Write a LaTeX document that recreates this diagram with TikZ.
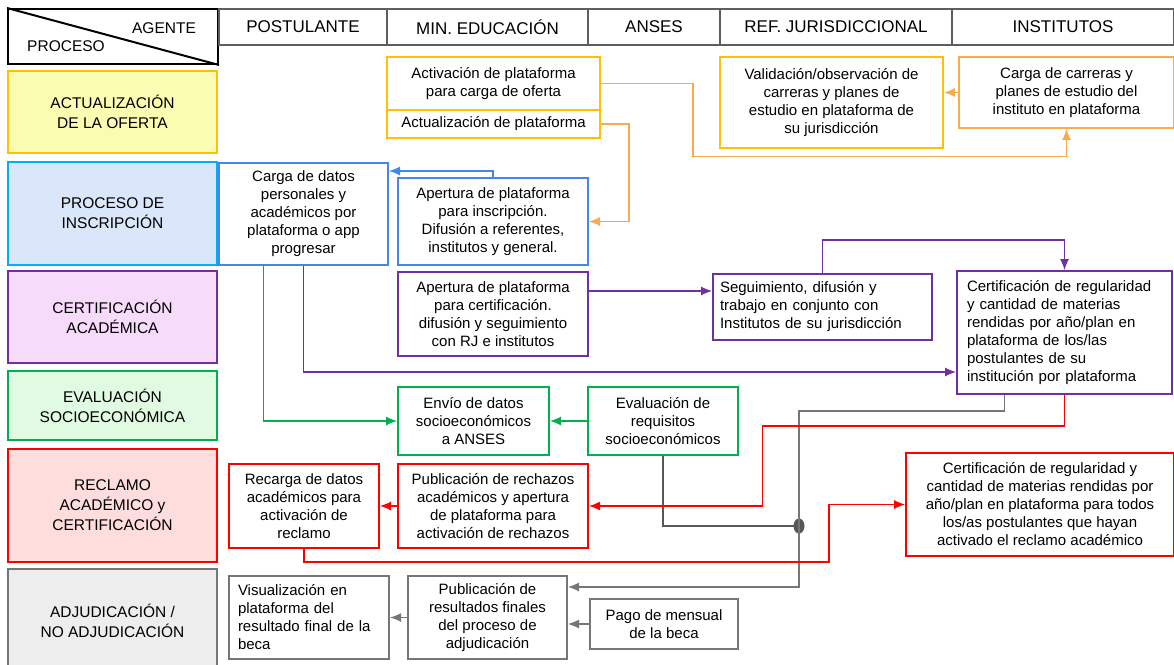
\documentclass[tikz,border=0pt]{standalone}
\usepackage{fontspec}
\setmainfont{Liberation Sans}
\usetikzlibrary{arrows.meta}

\definecolor{oro}{RGB}{255,192,0}
\definecolor{naranja}{RGB}{248,170,76}
\definecolor{azul}{RGB}{70,134,236}
\definecolor{celeste}{RGB}{0,176,240}
\definecolor{violeta}{RGB}{112,48,160}
\definecolor{verde}{RGB}{0,176,80}
\definecolor{rojo}{RGB}{255,0,0}
\definecolor{gris}{RGB}{118,118,118}
\definecolor{grisosc}{RGB}{88,88,88}
\definecolor{famarillo}{RGB}{250,252,178}
\definecolor{fceleste}{RGB}{218,231,250}
\definecolor{frosa}{RGB}{247,219,251}
\definecolor{fverde}{RGB}{224,251,226}
\definecolor{frojo}{RGB}{255,221,221}
\definecolor{fgris}{RGB}{237,237,237}

\tikzset{
	tarea/.style={draw, line width=2pt, fill=white, align=center, inner sep=2pt, font=\fontsize{15}{18}\selectfont},
	proceso/.style={draw, line width=2.4pt, align=center, minimum width=209pt, font=\fontsize{15.5}{20}\selectfont},
	cabecera/.style={draw=gris!80!black, line width=2pt, minimum height=36pt, font=\fontsize{17}{20}\selectfont},
	flecha/.style={line width=1.1pt, -{Latex[length=11pt,width=9pt]}},
}
\def\caja[#1](#2,#3)(#4,#5)#6#7{\node[tarea,#1,minimum width={#4-#2},minimum height={#5-#3}] (#6) at ({(#2+#4)/2},{(#3+#5)/2}) {#7};}

\begin{document}
\begin{tikzpicture}[x=1pt, y=-1pt]
			%%%%% START %%%%%
			\useasboundingbox (0,0) rectangle (1174,664);
			
			\node[draw=black, line width=2pt, minimum width=210pt, minimum height=55pt] (esquina) at (113, 36.5) {};
			\draw[line width=2pt] (esquina.north west) -- (esquina.south east);
			\node[font=\fontsize{15.5}{18}\selectfont] (agente) at (164, 28) {AGENTE};
			\node[font=\fontsize{15.5}{18}\selectfont] (proc) at (66, 46) {PROCESO};
			
			\node[cabecera, minimum width=168pt] (hPost) at (303, 27) {POSTULANTE};
			\node[cabecera, minimum width=201pt] (hMin) at (487.5, 27) {MIN. EDUCACIÓN};
			\node[cabecera, minimum width=132pt] (hAnses) at (654, 27) {ANSES};
			\node[cabecera, minimum width=232pt] (hRef) at (836, 27) {REF. JURISDICCIONAL};
			\node[cabecera, minimum width=222pt] (hInst) at (1063, 27) {INSTITUTOS};
			
			\node[proceso, draw=oro, fill=famarillo, minimum height=82pt] (pOferta) at (112.5, 112) {ACTUALIZACIÓN\\DE LA OFERTA};
			\node[proceso, draw=celeste, fill=fceleste, minimum height=103pt] (pInscr) at (112.5, 213.5) {PROCESO DE\\INSCRIPCIÓN};
			\node[proceso, draw=violeta, fill=frosa, minimum height=92pt] (pCert) at (112.5, 317) {CERTIFICACIÓN\\ACADÉMICA};
			\node[proceso, draw=verde, fill=fverde, minimum height=69pt] (pEval) at (112.5, 405.5) {EVALUACIÓN\\SOCIOECONÓMICA};
			\node[proceso, draw=rojo, fill=frojo, minimum height=113pt] (pRecl) at (112.5, 505.5) {RECLAMO\\ACADÉMICO y\\CERTIFICACIÓN};
			\node[proceso, draw=gris, fill=fgris, minimum height=103pt] (pAdj) at (112.5, 620.5) {ADJUDICACIÓN /\\NO ADJUDICACIÓN};
			
			\caja[draw=oro](387,57)(600,110){activ}{Activación de plataforma\\para carga de oferta}
			\caja[draw=oro](387,110)(600,138){actu}{Actualización de plataforma}
			\caja[draw=oro](720,57)(943,148){valid}{Validación/observación de\\carreras y planes de\\estudio en plataforma de\\su jurisdicción}
			\caja[draw=naranja](959,57)(1174,128){cargaof}{Carga de carreras y\\planes de estudio del\\instituto en plataforma}
			
			\caja[draw=azul](219,163)(388,265){datos}{Carga de datos\\personales y\\académicos por\\plataforma o app\\progresar}
			\caja[draw=azul](398,178)(588,265){apins}{Apertura de plataforma\\para inscripción.\\Difusión a referentes,\\institutos y general.}
			
			\caja[draw=violeta](398,272)(588,356){apcert}{Apertura de plataforma\\para certificación.\\difusión y seguimiento\\con RJ e institutos}
			\caja[draw=violeta, align=left, inner xsep=7pt, text width=205pt](713,274)(932,340){segui}{Seguimiento, difusión y\\trabajo en conjunto con\\Institutos de su jurisdicción}
			\caja[draw=violeta, align=left, inner xsep=10pt, text width=195pt](957,271)(1172,394){certif}{Certificación de regularidad\\y cantidad de materias\\rendidas por año/plan en\\plataforma de los/las\\postulantes de su\\institución por plataforma}
			
			\caja[draw=verde](398,387)(549,455){envio}{Envío de datos\\socioeconómicos\\a ANSES}
			\caja[draw=verde](588,387)(738,455){evalua}{Evaluación de\\requisitos\\socioeconómicos}
			
			\caja[draw=rojo](229,464)(379,548){recarga}{Recarga de datos\\académicos para\\activación de\\reclamo}
			\caja[draw=rojo](398,464)(588,548){rechazo}{Publicación de rechazos\\académicos y apertura\\de plataforma para\\activación de rechazos}
			\caja[draw=rojo](906,453)(1174,556){certodos}{Certificación de regularidad y\\cantidad de materias rendidas por\\año/plan en plataforma para todos\\los/as postulantes que hayan\\activado el reclamo académico}
			
			\caja[draw=gris, align=left, inner xsep=9pt, text width=142pt](229,576)(389,659){visual}{Visualización en\\plataforma del\\resultado final de la\\beca}
			\caja[draw=gris](408,576)(567,659){publica}{Publicación de\\resultados finales\\del proceso de\\adjudicación}
			\caja[draw=gris](590,599)(738,649){pago}{Pago de mensual\\de la beca}
			
			% conectores
			\draw[flecha, naranja] (activ.east) -- ++(92,0) -- ++(0,73) -| (cargaof.south);
			\draw[flecha, naranja] (cargaof.west) -- (cargaof.west -| valid.east);
			\draw[flecha, naranja] (actu.east) -- ++(28,0) |- (apins.east);
			\draw[flecha, azul] (apins.north) |- ([yshift=-9pt]datos.north east);
			
			\coordinate (sal) at ([yshift=-20pt]apcert.north east);
			\draw[flecha, violeta] (sal) -- (segui.west |- sal);
			\draw[flecha, violeta] (segui.north) -- ++(0,-33) -| (certif.north);
			\draw[flecha, violeta] (datos.south) |- ([yshift=23pt]certif.south west);
			
			\draw[flecha, verde] ([xshift=-40pt]datos.south) |- (envio.west);
			\draw[flecha, verde] (evalua.west) -- (envio.east);
			
			\coordinate (nudo) at (799,526);
			\draw[grisosc, line width=2pt] (evalua.south) |- (nudo);
			\fill[grisosc] (nudo) ellipse [x radius=5.5pt, y radius=7.5pt];
			\draw[flecha, gris] ([xshift=-60pt]certif.south) -- ++(0,16) -| (nudo) |- ([yshift=-12pt]publica.north east);
			
			\draw[flecha, rojo, line width=1.4pt] (certif.south) -- ++(0,31) -- ++(-302,0) |- (rechazo.east);
			\draw[flecha, rojo] (rechazo.west) -- (recarga.east);
			\draw[flecha, rojo] (recarga.south) -- ++(0,13) -- ++(525,0) |- (certodos.west);
			
			\draw[flecha, gris] (pago.west) -- (pago.west -| publica.east);
			\draw[flecha, gris] (publica.west) -- (visual.east);
			
			%%%%% END %%%%%
\end{tikzpicture}
\end{document}
